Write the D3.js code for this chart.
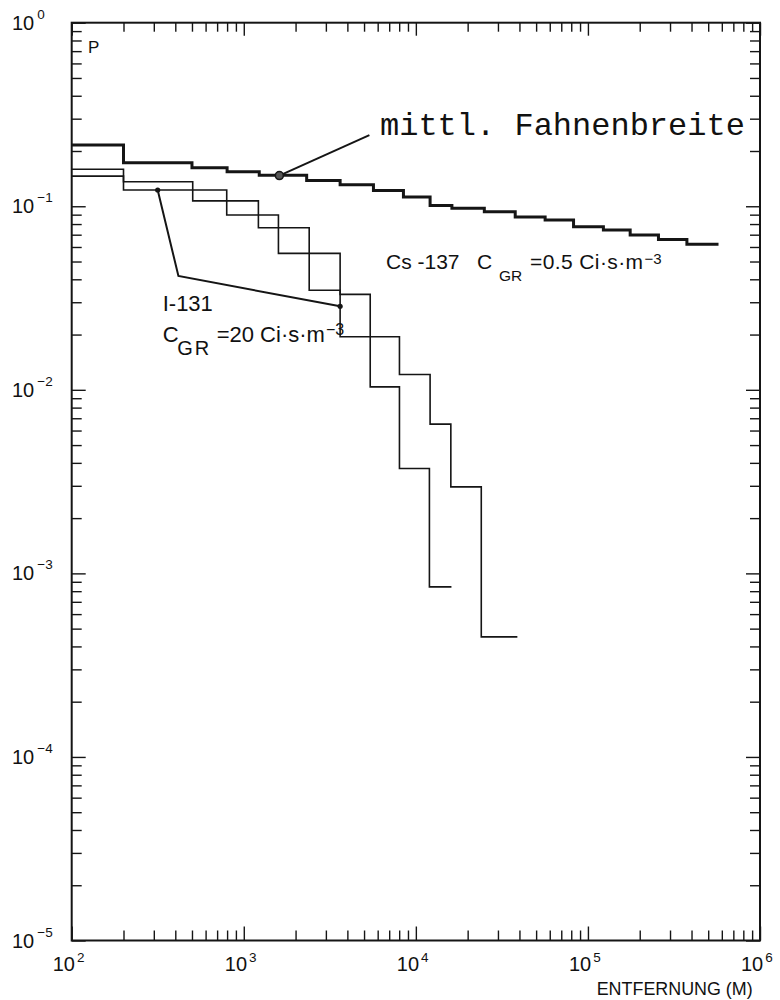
<!DOCTYPE html>
<html>
<head>
<meta charset="utf-8">
<script src="https://cdn.jsdelivr.net/npm/d3@7"></script>
<style>
  body { margin: 0; background: #fff; }
  svg { display: block; }
  text { font-family: "Liberation Sans", Arial, sans-serif; fill: #111; }
</style>
</head>
<body>
<svg id="chart" width="780" height="1000"></svg>
<script>
// Step curves: distance breakpoints (m) and the probability P held after each one.
// Each breakpoint list is one longer than its value list (the last entry is the curve's end).
const plumeDist = [100, 200, 500, 800, 1230, 2320, 3630, 5670, 8470, 12100, 16200, 25000,
                   37800, 56400, 82500, 123000, 176000, 257000, 376000, 574000];
const plumeProb = [0.2156, 0.1726, 0.162, 0.154, 0.1474, 0.138, 0.1311, 0.1218, 0.1122, 0.1009,
                   0.0974, 0.0933, 0.0874, 0.0841, 0.0773, 0.0742, 0.0697, 0.0660, 0.0620];

const csDist = [100, 200, 505, 1216, 2400, 3630, 5430, 8030, 11990, 16100];
const csProb = [0.159, 0.136, 0.107, 0.0763, 0.0349, 0.0331, 0.01038, 0.00373, 0.000844];

const iodDist = [100, 200, 796, 1590, 3630, 8030, 12100, 15970, 24000, 38900];
const iodProb = [0.146, 0.1226, 0.0896, 0.0554, 0.01945, 0.01213, 0.0065, 0.00296, 0.000451];

// Axis decades
const xDecades = [2, 3, 4, 5, 6];
const yDecades = [0, -1, -2, -3, -4, -5];

// Annotation leaders (distance, P)
const plumeMark = [1610, 0.147];
const plumeLeader = [[1610, 0.147], [5370, 0.244]];
const iodLeader = [[316, 0.1226], [417, 0.0417], [3630, 0.0285]];

const svg = d3.select("#chart");
const L = 71.7, R = 760, T = 22.7, B = 940.5;
const ink = "#151515";

const x = d3.scaleLog().domain([1e2, 1e6]).range([L, R]);
const y = d3.scaleLog().domain([1e-5, 1]).range([B, T]);

const isDecade = v => Math.abs(Math.log10(v) - Math.round(Math.log10(v))) < 1e-9;
const xAll = x.ticks(), yAll = y.ticks();
const xMinor = xAll.filter(v => !isDecade(v)), xMajor = xAll.filter(isDecade);
const yMinor = yAll.filter(v => !isDecade(v)), yMajor = yAll.filter(isDecade);

function styleAxis(g) {
  g.select(".domain").remove();
  g.selectAll(".tick text").remove();
  g.selectAll(".tick line").attr("stroke", ink).attr("stroke-width", 1.4);
}
function addAxis(gen, transform, minorLen, majorLen, minorVals, majorVals) {
  svg.append("g").attr("transform", transform)
    .call(gen.tickValues(minorVals).tickSize(-minorLen).tickSizeOuter(0)).call(styleAxis);
  svg.append("g").attr("transform", transform)
    .call(gen.tickValues(majorVals).tickSize(-majorLen).tickSizeOuter(0)).call(styleAxis);
}
addAxis(d3.axisBottom(x), `translate(0,${B})`, 10, 14, xMinor, xMajor);
addAxis(d3.axisTop(x), `translate(0,${T})`, 9, 13, xMinor, xMajor);
addAxis(d3.axisLeft(y), `translate(${L},0)`, 10, 14, yMinor, yMajor);
addAxis(d3.axisRight(y), `translate(${R},0)`, 10, 14, yMinor, yMajor);

// Frame
svg.append("rect").attr("x", L).attr("y", T).attr("width", R - L).attr("height", B - T)
  .attr("fill", "none").attr("stroke", ink).attr("stroke-width", 2);

// Decade labels
xDecades.forEach(e => {
  const t = svg.append("text").attr("x", x(Math.pow(10, e)) - 19).attr("y", 970.7)
    .attr("font-size", 20).text("10");
  t.append("tspan").attr("dx", 2).attr("dy", -9).attr("font-size", 13.5).text(e);
});
yDecades.forEach(e => {
  const t = svg.append("text").attr("x", 12).attr("y", y(Math.pow(10, e)) + 7)
    .attr("font-size", 20).text("10");
  t.append("tspan").attr("dx", 3).attr("dy", -11).attr("font-size", 13.5)
    .text(e < 0 ? "\u2212" + (-e) : String(e));
});

svg.append("text").attr("x", 596.7).attr("y", 995).attr("font-size", 18)
  .attr("textLength", 156).attr("lengthAdjust", "spacingAndGlyphs").text("ENTFERNUNG (M)");
svg.append("text").attr("x", 88).attr("y", 53.3).attr("font-size", 17).text("P");

// Curves
const stepLine = d3.line().x(d => x(d[0])).y(d => y(d[1])).curve(d3.curveStepAfter);
const pts = (dist, prob) => dist.map((d, i) => [d, prob[Math.min(i, prob.length - 1)]]);

svg.append("path").datum(pts(csDist, csProb)).attr("d", stepLine)
  .attr("fill", "none").attr("stroke", ink).attr("stroke-width", 1.6);
svg.append("path").datum(pts(iodDist, iodProb)).attr("d", stepLine)
  .attr("fill", "none").attr("stroke", ink).attr("stroke-width", 1.6);
svg.append("path").datum(pts(plumeDist, plumeProb)).attr("d", stepLine)
  .attr("fill", "none").attr("stroke", ink).attr("stroke-width", 3);

// Leaders and markers
const straight = d3.line().x(d => x(d[0])).y(d => y(d[1]));
svg.append("path").datum(plumeLeader).attr("d", straight)
  .attr("fill", "none").attr("stroke", ink).attr("stroke-width", 2);
svg.append("circle").attr("cx", x(plumeMark[0])).attr("cy", y(plumeMark[1])).attr("r", 4)
  .attr("fill", "#555").attr("stroke", ink).attr("stroke-width", 1.6);

svg.append("path").datum(iodLeader).attr("d", straight)
  .attr("fill", "none").attr("stroke", ink).attr("stroke-width", 2);
svg.selectAll(".iodDot").data([iodLeader[0], iodLeader[2]]).enter().append("circle")
  .attr("cx", d => x(d[0])).attr("cy", d => y(d[1])).attr("r", 2.6).attr("fill", ink);

// Curve labels
svg.append("text").attr("x", 380).attr("y", 135)
  .style("font-family", "'Liberation Mono', 'Courier New', monospace")
  .attr("font-size", 32).text("mittl. Fahnenbreite");

const cs = svg.append("text").attr("y", 269.3).attr("font-size", 21);
cs.append("tspan").attr("x", 386).text("Cs -137");
cs.append("tspan").attr("x", 477).text("C");
cs.append("tspan").attr("x", 499).attr("dy", 11.7).attr("font-size", 15.5).text("GR");
cs.append("tspan").attr("x", 530).attr("dy", -11.7).attr("letter-spacing", 0.4).text("=0.5 Ci\u00B7s\u00B7m");
cs.append("tspan").attr("dx", 1).attr("dy", -5).attr("font-size", 15).text("\u22123");

svg.append("text").attr("x", 162.7).attr("y", 310.7).attr("font-size", 22).text("I-131");
const io = svg.append("text").attr("y", 341.7).attr("font-size", 22);
io.append("tspan").attr("x", 162.7).text("C");
io.append("tspan").attr("x", 177.3).attr("dy", 13.3).attr("font-size", 20)
  .attr("letter-spacing", 2).text("GR");
io.append("tspan").attr("x", 216.7).attr("dy", -13.3).text("=20 Ci\u00B7s\u00B7m");
io.append("tspan").attr("dx", 1).attr("dy", -7).attr("font-size", 16).text("\u22123");
</script>
</body>
</html>
